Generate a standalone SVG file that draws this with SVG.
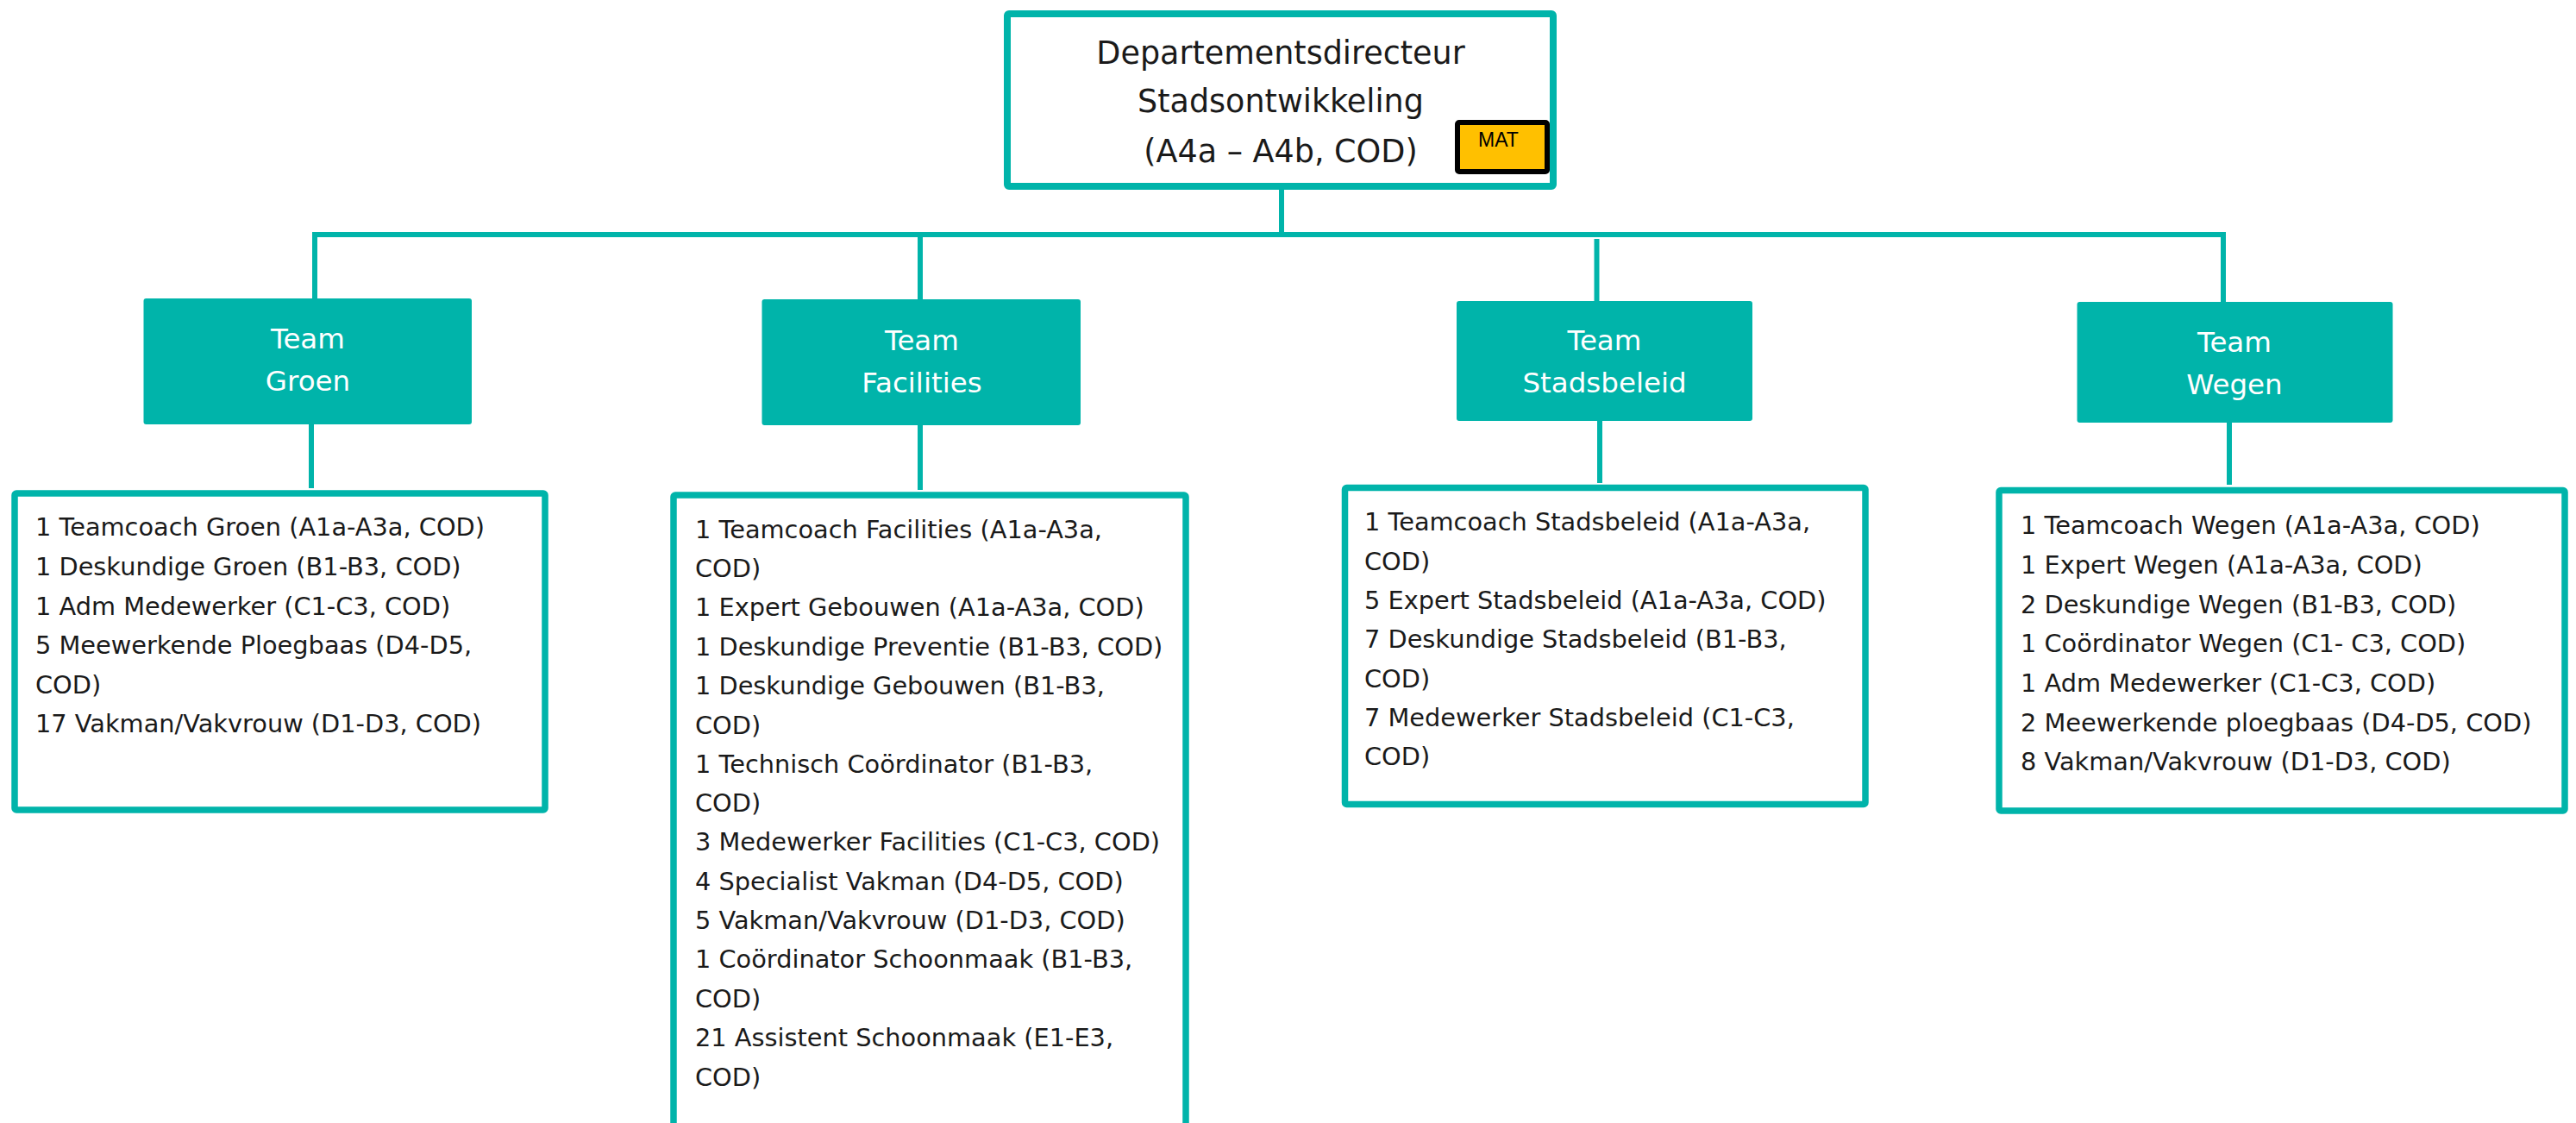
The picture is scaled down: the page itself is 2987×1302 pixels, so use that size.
<svg xmlns="http://www.w3.org/2000/svg" width="2987" height="1302" viewBox="0 0 2987 1302">
<style>
.head{fill:#fff;stroke:#00B4AA;stroke-width:8}
.team{fill:#00B4AA}
.list{fill:#fff;stroke:#00B4AA;stroke-width:7.5}
.conn{fill:none;stroke:#00B4AA;stroke-width:6}
.ht{font-family:"DejaVu Sans",sans-serif;font-size:36.5px;fill:#1a1a1a;text-anchor:middle}
.tt{font-family:"DejaVu Sans",sans-serif;font-size:32.5px;fill:#fff;text-anchor:middle}
.lt{font-family:"DejaVu Sans",sans-serif;font-size:28.8px;fill:#1a1a1a}
.mat{font-family:"Liberation Sans",Arial,sans-serif;font-size:23px;fill:#000}
</style>
<rect width="2987" height="1302" fill="#fff"/>
<g id="connectors">
<line class="conn" x1="1486" y1="204" x2="1486" y2="272"/>
<path class="conn" d="M365,347 V272 H2578 V350"/>
<line class="conn" x1="1067" y1="272" x2="1067" y2="347"/>
<line class="conn" x1="1851.5" y1="277" x2="1851.5" y2="349"/>
<line class="conn" x1="361" y1="492" x2="361" y2="566"/>
<line class="conn" x1="1067" y1="493" x2="1067" y2="568"/>
<line class="conn" x1="1855" y1="488" x2="1855" y2="560"/>
<line class="conn" x1="2585" y1="490" x2="2585" y2="562"/>
</g>
<g id="director">
<rect class="head" x="1168" y="16" width="633" height="200" rx="2"/>
<text class="ht" x="1485"><tspan x="1485" y="74">Departementsdirecteur</tspan><tspan x="1485" y="130">Stadsontwikkeling</tspan><tspan x="1485" y="188">(A4a – A4b, COD)</tspan></text>
<rect x="1690" y="142" width="104" height="57" fill="#FFC000" stroke="#000" stroke-width="6" rx="2"/>
<text class="mat" x="1714" y="170">MAT</text>
</g>
<g id="team-groen">
<rect class="team" x="166.5" y="346" width="380.5" height="146" rx="3"/>
<text class="tt"><tspan x="357" y="404">Team</tspan><tspan x="357" y="453">Groen</tspan></text>
</g>
<g id="team-facilities">
<rect class="team" x="883.5" y="347" width="369.5" height="146" rx="3"/>
<text class="tt"><tspan x="1069" y="406">Team</tspan><tspan x="1069" y="455">Facilities</tspan></text>
</g>
<g id="team-stadsbeleid">
<rect class="team" x="1689" y="349" width="343" height="139" rx="3"/>
<text class="tt"><tspan x="1860.5" y="406">Team</tspan><tspan x="1860.5" y="455">Stadsbeleid</tspan></text>
</g>
<g id="team-wegen">
<rect class="team" x="2408.5" y="350" width="366" height="140" rx="3"/>
<text class="tt"><tspan x="2591" y="408">Team</tspan><tspan x="2591" y="457">Wegen</tspan></text>
</g>
<g id="list-groen">
<rect class="list" x="17" y="572" width="615" height="367" rx="2"/>
<text class="lt">
<tspan x="41" y="621">1 Teamcoach Groen (A1a-A3a, COD)</tspan>
<tspan x="41" y="667">1 Deskundige Groen (B1-B3, COD)</tspan>
<tspan x="41" y="713">1 Adm Medewerker (C1-C3, COD)</tspan>
<tspan x="41" y="758">5 Meewerkende Ploegbaas (D4-D5,</tspan>
<tspan x="41" y="804">COD)</tspan>
<tspan x="41" y="849">17 Vakman/Vakvrouw (D1-D3, COD)</tspan>
</text>
</g>
<g id="list-facilities">
<rect class="list" x="781" y="574" width="594" height="760" rx="2"/>
<text class="lt">
<tspan x="806" y="624">1 Teamcoach Facilities (A1a-A3a,</tspan>
<tspan x="806" y="669">COD)</tspan>
<tspan x="806" y="714">1 Expert Gebouwen (A1a-A3a, COD)</tspan>
<tspan x="806" y="760">1 Deskundige Preventie (B1-B3, COD)</tspan>
<tspan x="806" y="805">1 Deskundige Gebouwen (B1-B3,</tspan>
<tspan x="806" y="851">COD)</tspan>
<tspan x="806" y="896">1 Technisch Coördinator (B1-B3,</tspan>
<tspan x="806" y="941">COD)</tspan>
<tspan x="806" y="986">3 Medewerker Facilities (C1-C3, COD)</tspan>
<tspan x="806" y="1032">4 Specialist Vakman (D4-D5, COD)</tspan>
<tspan x="806" y="1077">5 Vakman/Vakvrouw (D1-D3, COD)</tspan>
<tspan x="806" y="1122">1 Coördinator Schoonmaak (B1-B3,</tspan>
<tspan x="806" y="1168">COD)</tspan>
<tspan x="806" y="1213">21 Assistent Schoonmaak (E1-E3,</tspan>
<tspan x="806" y="1259">COD)</tspan>
</text>
</g>
<g id="list-stadsbeleid">
<rect class="list" x="1559.5" y="565.5" width="603.5" height="367" rx="2"/>
<text class="lt">
<tspan x="1582" y="615">1 Teamcoach Stadsbeleid (A1a-A3a,</tspan>
<tspan x="1582" y="661">COD)</tspan>
<tspan x="1582" y="706">5 Expert Stadsbeleid (A1a-A3a, COD)</tspan>
<tspan x="1582" y="751">7 Deskundige Stadsbeleid (B1-B3,</tspan>
<tspan x="1582" y="797">COD)</tspan>
<tspan x="1582" y="842">7 Medewerker Stadsbeleid (C1-C3,</tspan>
<tspan x="1582" y="887">COD)</tspan>
</text>
</g>
<g id="list-wegen">
<rect class="list" x="2318" y="568.5" width="656" height="371.5" rx="2"/>
<text class="lt">
<tspan x="2343" y="619">1 Teamcoach Wegen (A1a-A3a, COD)</tspan>
<tspan x="2343" y="665">1 Expert Wegen (A1a-A3a, COD)</tspan>
<tspan x="2343" y="711">2 Deskundige Wegen (B1-B3, COD)</tspan>
<tspan x="2343" y="756">1 Coördinator Wegen (C1- C3, COD)</tspan>
<tspan x="2343" y="802">1 Adm Medewerker (C1-C3, COD)</tspan>
<tspan x="2343" y="848">2 Meewerkende ploegbaas (D4-D5, COD)</tspan>
<tspan x="2343" y="893">8 Vakman/Vakvrouw (D1-D3, COD)</tspan>
</text>
</g>
</svg>
